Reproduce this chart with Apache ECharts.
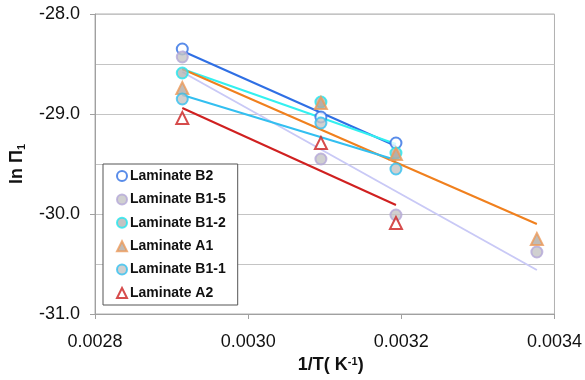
<!DOCTYPE html>
<html>
<head>
<meta charset="utf-8">
<script src="https://cdn.jsdelivr.net/npm/echarts@6/dist/echarts.min.js"></script>
<style>
  html, body { margin: 0; padding: 0; background: #fff; }
  #chart { width: 585px; height: 380px; }
</style>
</head>
<body>
<div id="chart"></div>
<script>
// 1/T values (K^-1) of the four temperatures
const xVals = [0.002914, 0.003095, 0.003193, 0.003377];

// ln PI1
const b2 = [-28.35, -29.03, -29.29];
const b15 = [-28.43, -29.45, -30.01, -30.38];
const b12 = [-28.59, -28.88, -29.39];
const a1 = [-28.74, -28.89, -29.40, -30.25];
const b11 = [-28.85, -29.09, -29.55];
const a2 = [-29.04, -29.29, -30.09];

// trend line ends (start, end) as drawn in the picture
const trendB2 = [-28.37, -29.32];
const trendB15 = [-28.58, -30.56];
const trendB12 = [-28.55, -29.30];
const trendA1 = [-28.55, -30.10];
const trendB11 = [-28.81, -29.46];
const trendA2 = [-28.94, -29.91];

const yTicks = [-31, -30, -29, -28];
const xTicks = [0.0028, 0.0030, 0.0032, 0.0034];

function pts(vals) {
    return vals.map((v, i) => [xVals[i], v]);
}
function trend(ends) {
    // line runs from first to last measured temperature of that laminate
    const last = ends === trendB15 || ends === trendA1 ? 3 : 2;
    return [[xVals[0], ends[0]], [xVals[last], ends[1]]];
}

function scatter(name, vals, symbol, fill, border) {
    return {
        name: name,
        type: "scatter",
        data: pts(vals),
        symbol: symbol,
        symbolSize: symbol === "triangle" ? 12 : 11,
        z: 5,
        itemStyle: { color: fill, borderColor: border, borderWidth: 2 }
    };
}
function line(ends, color) {
    return {
        type: "line",
        data: trend(ends),
        symbol: "none",
        silent: true,
        z: 3,
        lineStyle: { color: color, width: 2 }
    };
}

const chart = echarts.init(document.getElementById("chart"));
chart.setOption({
    animation: false,
    textStyle: { fontFamily: "Liberation Sans, Arial, sans-serif" },
    grid: {
        left: 95, right: 29, top: 14, bottom: 66,
        show: true, borderColor: "#b0b0b0", borderWidth: 1
    },
    legend: {
        orient: "vertical",
        left: 103,
        top: 164,
        data: ["Laminate B2", "Laminate B1-5", "Laminate B1-2", "Laminate A1", "Laminate B1-1", "Laminate A2"],
        itemWidth: 10,
        itemHeight: 10,
        itemGap: 9.4,
        padding: [5, 12, 5, 13],
        backgroundColor: "#fff",
        borderColor: "#555",
        borderWidth: 1,
        textStyle: { fontSize: 14, fontWeight: "bold", color: "#111", padding: [0, 0, 0, -2] }
    },
    xAxis: {
        type: "value",
        min: xTicks[0],
        max: xTicks[xTicks.length - 1],
        interval: 0.0002,
        name: "1/T( K{sup|-1})",
        nameLocation: "middle",
        nameGap: 42,
        nameTextStyle: {
            fontSize: 18, fontWeight: "bold", color: "#111", padding: [0, 0, 0, 12],
            rich: { sup: { fontSize: 11, fontWeight: "bold", verticalAlign: "top", padding: [0, 0, 8, 0] } }
        },
        axisLine: { lineStyle: { color: "#a0a0a0" } },
        axisTick: { show: true, length: 5, lineStyle: { color: "#a0a0a0" } },
        splitLine: { show: false },
        axisLabel: {
            fontSize: 18, color: "#111", margin: 19,
            formatter: v => v.toFixed(4)
        }
    },
    yAxis: {
        type: "value",
        min: yTicks[0],
        max: yTicks[yTicks.length - 1],
        interval: 1,
        name: "ln Π{sub|1}",
        nameLocation: "middle",
        nameGap: 68,
        nameRotate: 90,
        nameTextStyle: {
            fontSize: 18, fontWeight: "bold", color: "#111",
            rich: { sub: { fontSize: 11, fontWeight: "bold", verticalAlign: "bottom", padding: [8, 0, 0, 0] } }
        },
        axisLine: { show: true, lineStyle: { color: "#a0a0a0" } },
        axisTick: { show: true, length: 5, lineStyle: { color: "#a0a0a0" } },
        splitLine: { lineStyle: { color: "#c4c4c4" } },
        minorTick: { show: false, splitNumber: 2 },
        minorSplitLine: { show: true, lineStyle: { color: "#c4c4c4" } },
        axisLabel: {
            fontSize: 18, color: "#111", margin: 15,
            formatter: v => v.toFixed(1)
        }
    },
    series: [
        line(trendB2, "#2f6fe4"),
        line(trendB15, "#c9c9f6"),
        line(trendB12, "#33f0f0"),
        line(trendA1, "#f0801e"),
        line(trendB11, "#33bff0"),
        line(trendA2, "#d02020"),
        scatter("Laminate B2", b2, "circle", "#ffffff", "#2f6fe4"),
        scatter("Laminate B1-5", b15, "circle", "#c4c4c4", "#b4a8d8"),
        scatter("Laminate B1-2", b12, "circle", "#b4b4b4", "#22e6ee"),
        scatter("Laminate A1", a1, "triangle", "#b0aaa4", "#ec9a5a"),
        scatter("Laminate B1-1", b11, "circle", "#c4c4c4", "#33c0f0"),
        scatter("Laminate A2", a2, "triangle", "#ffffff", "#cc1f1f")
    ]
});
</script>
</body>
</html>
